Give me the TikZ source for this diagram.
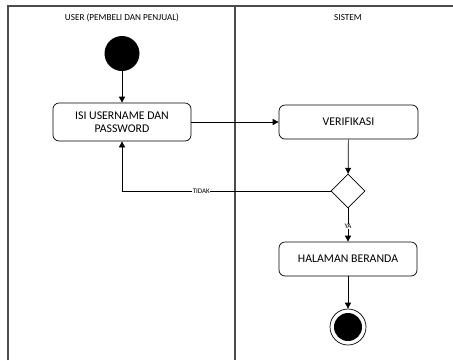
\documentclass[tikz,border=0pt]{standalone}
\usepackage{fontspec}
\setmainfont{Carlito}
\usetikzlibrary{shapes.geometric,arrows.meta}
\begin{document}
\begin{tikzpicture}[x=1pt,y=-1pt,
  lane/.style={draw=black!70,line width=1.3pt},
  act/.style={draw,rounded corners=6pt,minimum width=138pt,line width=0.7pt,align=center,font=\fontsize{11.8}{13.5}\selectfont,inner sep=0pt},
  flow/.style={line width=0.7pt,-{Triangle[length=6pt,width=6pt]}},
  guard/.style={font=\fontsize{7}{8}\selectfont,fill=white,inner sep=0.5pt},
  head/.style={font=\fontsize{9.2}{11}\selectfont}]
\useasboundingbox (0,0) rectangle (453,360);
% swimlanes
\draw[lane] (8,360) -- (8,6) -- (453,6);
\draw[lane] (235,6) -- (235,360);
\node[head] (h1) at (122,18) {USER (PEMBELI DAN PENJUAL)};
\node[head] (h2) at (348,18) {SISTEM};
% activity nodes
\node[circle,fill=black,minimum size=35pt,inner sep=0pt] (start) at (122,53.5) {};
\node[act,minimum height=38pt] (isi) at (122,122) {ISI USERNAME DAN\\PASSWORD};
\node[act,minimum height=34pt,minimum width=139pt] (ver) at (348.5,122) {VERIFIKASI};
\node[diamond,draw,line width=0.7pt,minimum size=34pt,inner sep=0pt] (dec) at (348,191) {};
\node[act,minimum height=34pt] (home) at (348,259) {HALAMAN BERANDA};
\node[circle,draw,line width=0.7pt,minimum size=36pt,inner sep=0pt] (end) at (348,327) {};
\node[circle,fill=black,minimum size=28pt,inner sep=0pt] (endin) at (348,327) {};
% flows
\draw[flow] (start) -- (isi);
\draw[flow] (isi) -- (ver);
\draw[flow] (ver) -- (dec);
\draw[flow] (dec.west) -- (122,191) node[guard,pos=0.62] {TIDAK} -- (isi.south);
\draw[flow] (dec.south) -- node[guard,pos=0.55] {YA} (home.north);
\draw[flow] (home) -- (end);
\end{tikzpicture}
\end{document}
